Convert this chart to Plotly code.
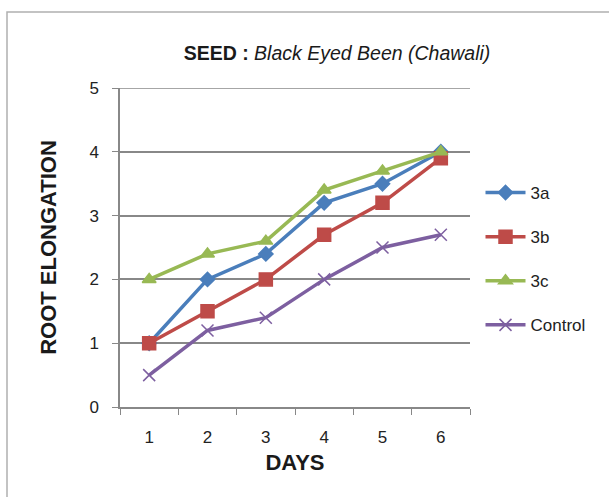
import plotly.graph_objects as go

days = ["1", "2", "3", "4", "5", "6"]
s3a = [1.0, 2.0, 2.4, 3.2, 3.5, 4.0]
s3b = [1.0, 1.5, 2.0, 2.7, 3.2, 3.9]
s3c = [2.0, 2.4, 2.6, 3.4, 3.7, 4.0]
control = [0.5, 1.2, 1.4, 2.0, 2.5, 2.7]

series = [
    ("3a", s3a, "#4a7ebb", "diamond", 11),
    ("3b", s3b, "#be4b48", "square", 13),
    ("3c", s3c, "#98b954", "triangle-up", 12),
    ("Control", control, "#7d5fa0", "x-thin-open", 12),
]

YMAX = 5

W, H = 609, 497
L, R, T, B = 120, 139, 88, 90
pw, ph = W - L - R, H - T - B

fig = go.Figure()
for i, (name, vals, col, sym, sz) in enumerate(series):
    fig.add_trace(go.Scatter(
        x=days, y=vals, name=name, mode="lines+markers",
        line=dict(color=col, width=3.5),
        marker=dict(symbol=sym, size=sz, color=col,
                    line=dict(color=col, width=1.5)),
        legendgroup=f"g{i}",
    ))

font_narrow = "Liberation Sans Narrow, Arial Narrow, sans-serif"

fig.update_layout(
    width=W, height=H,
    margin=dict(l=L, r=R, t=T, b=B),
    paper_bgcolor="white", plot_bgcolor="white",
    title=dict(
        text="<b>SEED :</b> <i>Black Eyed Been (Chawali)</i>",
        x=(337) / W, xanchor="center", y=1 - 53 / H, yanchor="middle",
        font=dict(family=font_narrow, size=19.5, color="#1a1a1a"),
    ),
    xaxis=dict(
        type="category", tickson="boundaries", ticks="outside", ticklen=6,
        tickcolor="#888888", showline=True, linecolor="#888888", linewidth=1.5,
        showgrid=False, range=[-0.5, 5.5], ticklabelstandoff=14,
        tickfont=dict(family=font_narrow, size=17, color="#222222"),
        title=dict(text="<b>DAYS</b>", standoff=8,
                   font=dict(family=font_narrow, size=22, color="#1a1a1a")),
    ),
    yaxis=dict(
        range=[0, YMAX], dtick=1, ticks="outside", ticklen=6, tickcolor="#888888",
        showline=True, linecolor="#888888", linewidth=1.5,
        showgrid=True, gridcolor="#888888", gridwidth=1.5, zeroline=False,
        ticklabelstandoff=10,
        tickfont=dict(family=font_narrow, size=17, color="#222222"),
        title=dict(text="<b>ROOT ELONGATION</b>", standoff=27,
                   font=dict(family="Liberation Sans, Arial, sans-serif", size=22,
                             color="#1a1a1a")),
    ),
    legend=dict(
        x=1.03, xanchor="left", y=1 - (175 - T) / ph, yanchor="top",
        font=dict(family=font_narrow, size=17, color="#222222"),
        tracegroupgap=19, itemwidth=40, bgcolor="rgba(0,0,0,0)",
    ),
    shapes=[
        dict(
            type="rect", xref="paper", yref="paper",
            x0=(7 - L) / pw, x1=(W + 20 - L) / pw,
            y0=-(H + 20 - T - ph) / ph, y1=1 + (T - 12) / ph,
            line=dict(color="#b0b0b0", width=1.5), fillcolor="rgba(0,0,0,0)",
            layer="below",
        ),
        dict(
            type="line", xref="paper", yref="y", x0=0, x1=1, y0=YMAX, y1=YMAX,
            line=dict(color="#888888", width=1.5), layer="below",
        ),
    ],
)

fig.write_html("out.html")
